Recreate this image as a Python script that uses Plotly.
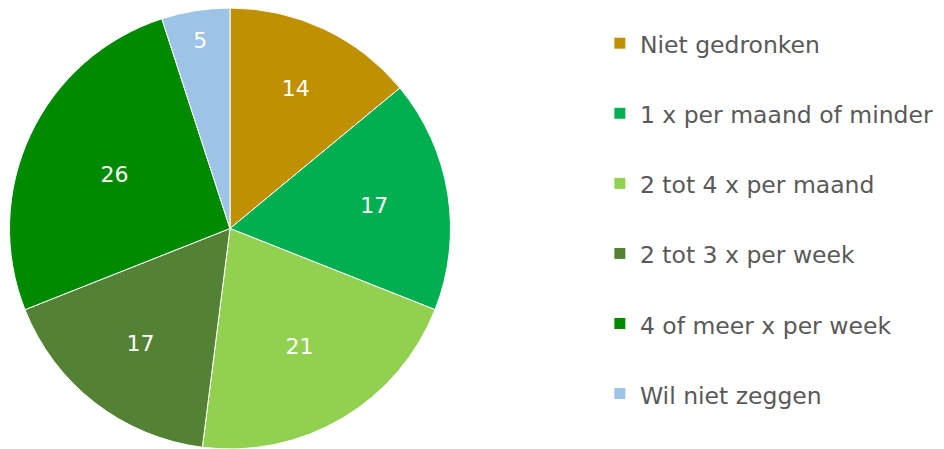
import plotly.graph_objects as go

labels = ["Niet gedronken", "1 x per maand of minder", "2 tot 4 x per maand",
          "2 tot 3 x per week", "4 of meer x per week", "Wil niet zeggen"]
values = [14, 17, 21, 17, 26, 5]
colors = ["#BF9000", "#00B050", "#92D050", "#548235", "#008A00", "#9DC3E6"]

W, H = 944, 449
legend_labels = ["<span style='font-size:23.5px'>%s</span><br> " % l for l in labels]

fig = go.Figure(go.Pie(
    labels=legend_labels,
    values=values,
    sort=False,
    direction="clockwise",
    rotation=0,
    marker=dict(colors=colors, line=dict(color="white", width=1)),
    textinfo="value",
    textposition="inside",
    insidetextorientation="horizontal",
    textfont=dict(color="white", size=22, family="DejaVu Sans"),
    domain=dict(x=[1.5 / W, 442.5 / W], y=[0, 1]),
    hoverinfo="value",
))
fig.update_layout(
    width=W, height=H,
    margin=dict(l=0, r=0, t=0, b=8),
    paper_bgcolor="white",
    font=dict(family="DejaVu Sans", color="#595959", size=20),
    legend=dict(x=0.627, y=0.973, xanchor="left", yanchor="top",
                valign="top", font=dict(size=25.8, color="#595959"),
                itemwidth=30, tracegroupgap=0),
)
fig.write_html("out.html")
